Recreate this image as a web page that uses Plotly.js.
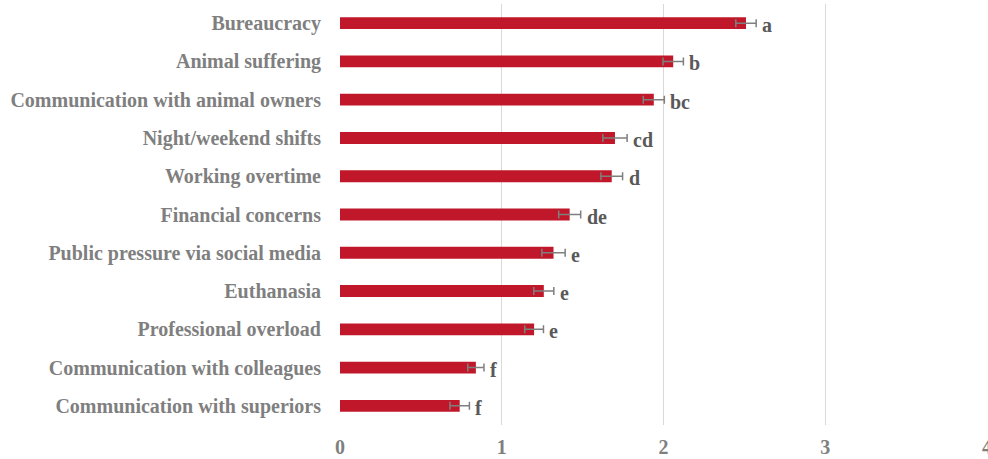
<!DOCTYPE html>
<html>
<head>
<meta charset="utf-8">
<script src="https://cdn.plot.ly/plotly-3.0.1.min.js"></script>
<style>html,body{margin:0;padding:0;background:#fff;}#chart{width:988px;height:459px;}</style>
</head>
<body>
<div id="chart"></div>
<script>
const categories = [
  "Bureaucracy",
  "Animal suffering",
  "Communication with animal owners",
  "Night/weekend shifts",
  "Working overtime",
  "Financial concerns",
  "Public pressure via social media",
  "Euthanasia",
  "Professional overload",
  "Communication with colleagues",
  "Communication with superiors"
];
const means = [2.51, 2.06, 1.94, 1.70, 1.68, 1.42, 1.32, 1.26, 1.20, 0.84, 0.74];
const errors = [0.063, 0.063, 0.065, 0.075, 0.067, 0.068, 0.072, 0.062, 0.058, 0.05, 0.06];
const letters = ["a", "b", "bc", "cd", "d", "de", "e", "e", "e", "f", "f"];
const xTicks = [0, 1, 2, 3, 4];

const serif = "Liberation Serif, Times New Roman, serif";

const trace = {
  type: "bar",
  orientation: "h",
  y: categories,
  x: means,
  width: 0.31,
  marker: {color: "#C0182A"},
  error_x: {type: "data", array: errors, visible: true, color: "#7f7f7f", thickness: 1.5, width: 4},
  hoverinfo: "skip"
};

const annotations = categories.map((c, i) => ({
  x: means[i] + errors[i],
  y: c,
  xref: "x",
  yref: "y",
  text: letters[i],
  showarrow: false,
  xanchor: "left",
  xshift: 4,
  yshift: -2,
  font: {family: serif, size: 20, color: "#595959", weight: "bold"}
}));

const layout = {
  width: 988,
  height: 459,
  margin: {l: 340, r: 1, t: 4, b: 34},
  paper_bgcolor: "#ffffff",
  plot_bgcolor: "#ffffff",
  showlegend: false,
  bargap: 0.69,
  xaxis: {
    range: [0, 4],
    tickvals: xTicks,
    ticktext: xTicks.map(String),
    showgrid: true,
    gridcolor: "#d9d9d9",
    gridwidth: 1,
    zeroline: false,
    showline: false,
    ticks: "",
    tickfont: {family: serif, size: 20, color: "#7f7f7f", weight: "bold"},
    ticklabelstandoff: 8,
    ticklabeloverflow: "allow",
    fixedrange: true
  },
  yaxis: {
    type: "category",
    categoryorder: "array",
    categoryarray: categories,
    autorange: "reversed",
    showgrid: false,
    zeroline: false,
    showline: false,
    ticks: "",
    ticklabelstandoff: 18,
    tickfont: {family: serif, size: 20, color: "#7f7f7f", weight: "bold"},
    fixedrange: true
  },
  annotations: annotations
};

Plotly.newPlot("chart", [trace], layout, {displayModeBar: false, staticPlot: true});
</script>
</body>
</html>
